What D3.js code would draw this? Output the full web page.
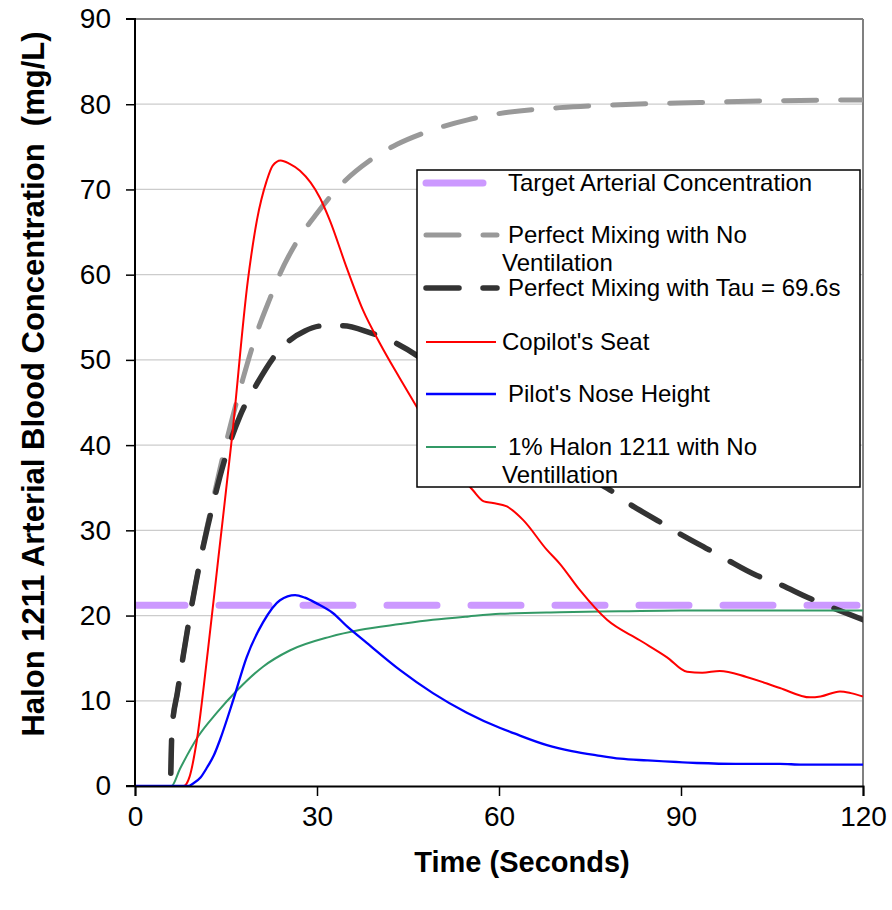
<!DOCTYPE html>
<html lang="en">
<head>
    <meta charset="UTF-8">
    <title>Halon 1211 Arterial Blood Concentration</title>
    <script src="https://cdnjs.cloudflare.com/ajax/libs/d3/7.8.5/d3.min.js"></script>
    <style>
        body { margin: 0; background: #fff; }
        text { font-family: "Liberation Sans", Arial, sans-serif; fill: #000; }
        .grid line { stroke: #cccccc; stroke-width: 1.3; }
    </style>
</head>
<body>
    <div id="chart"></div>

    <script>
        // Axis ticks
        const xTicks = [0, 30, 60, 90, 120];
        const yTicks = [0, 10, 20, 30, 40, 50, 60, 70, 80, 90];

        // Series values, [time (s), concentration (mg/L)]
        const target = [[0, 21.2], [120, 21.2]];

        const mixingNoVent = [
            [5.9, 1.5], [6.1, 6.6], [7, 11], [8, 15.5], [9, 19.8], [10, 23.7], [11, 27.4],
            [12, 30.8], [13, 34], [14, 37.2], [15.2, 40.8], [16.8, 45.2], [17.8, 47.8],
            [20.1, 53.2], [22.3, 57.3], [23.9, 60.1], [26.7, 63.9], [30, 67.2], [34.3, 70.8],
            [38.7, 73.4], [43.2, 75.3], [47.5, 76.6], [55, 78.2], [60, 78.9], [70, 79.6],
            [78.3, 79.9], [93.1, 80.2], [105, 80.4], [120, 80.5]
        ];

        const mixingTau = [
            [5.9, 1.5], [6.1, 6.6], [7, 11], [8, 15.5], [9, 19.8], [10, 23.7], [11, 27.3],
            [12, 30.5], [13, 33.5], [14, 36.3], [15.2, 39.3], [17.3, 43.4], [20.1, 47.2],
            [23.4, 50.8], [25.5, 52.3], [28, 53.4], [31, 54], [34.3, 54], [38.7, 53.2],
            [43.2, 51.9], [46.5, 50.5], [50, 48.6], [55, 46.3], [60, 43.8], [65, 41.2],
            [70, 38.6], [75.5, 35.9], [78.8, 34.5], [81.1, 33.3], [86.5, 31.0], [89.3, 29.8],
            [94.4, 27.8], [97.2, 26.7], [102.5, 24.7], [105.5, 23.9], [111.3, 22],
            [114, 21.2], [120, 19.5]
        ];

        const copilot = [
            [0, 0], [8, 0], [9, 1.1], [10.2, 5.4], [12, 15.8], [13.7, 26.5], [16, 41],
            [18.6, 59.3], [20.1, 66.4], [21.7, 71], [22.7, 72.8], [24, 73.4], [25.5, 73],
            [27.2, 72.2], [30.5, 69], [32.1, 66.4], [34.9, 60.8], [37.6, 55.8], [40.4, 51.9],
            [43.6, 47.9], [46.5, 44.4], [50, 40.3], [53, 37], [55.7, 34.7], [57.5, 33.4],
            [59, 33.2], [61.3, 32.8], [64, 31.2], [67.9, 27.7], [70, 26.1], [73.3, 23],
            [77.8, 19.5], [83.2, 17.1], [87.7, 15.1], [91, 13.4], [93.5, 13.3], [96.4, 13.5],
            [100.8, 12.8], [106.3, 11.5], [111.3, 10.4], [113, 10.5], [116.2, 11.1],
            [118, 10.9], [120, 10.5]
        ];

        const pilotNose = [
            [0, 0], [8.8, 0], [9.6, 0.3], [10.8, 1], [11.9, 2.2], [13, 3.6], [14, 5.4],
            [16.2, 10.1], [18.4, 15.1], [21.1, 19.2], [23.9, 21.8], [26.4, 22.4], [28, 22.1],
            [30, 21.4], [32.6, 20.3], [35, 18.7], [38.2, 16.8], [43.7, 13.6], [49.1, 10.9],
            [54.7, 8.6], [60.2, 6.8], [62.4, 6.2], [67.9, 4.8], [72, 4.1], [76.1, 3.6],
            [80, 3.2], [84.4, 3.0], [92.6, 2.7], [99, 2.6], [106.3, 2.6], [110, 2.5], [120, 2.5]
        ];

        const halonNoVent = [
            [0, 0], [6, 0], [7.4, 2], [10.4, 5.8], [13.5, 8.6], [16.8, 11.2], [21.1, 14],
            [25.5, 15.9], [32.1, 17.5], [37, 18.3], [43.7, 19], [49.1, 19.5], [55, 19.9],
            [60.2, 20.2], [70, 20.4], [80, 20.5], [90, 20.6], [105, 20.6], [120, 20.6]
        ];

        const series = [
            { name: "Target Arterial Concentration", data: target, color: "#cc99ff", width: 7, dash: "50,34", cap: "round", curve: d3.curveLinear },
            { name: "Perfect Mixing with No|Ventilation", data: mixingNoVent, color: "#999999", width: 5, dash: "33,24", cap: "round", curve: d3.curveMonotoneX },
            { name: "Perfect Mixing with Tau = 69.6s", data: mixingTau, color: "#333333", width: 5.5, dash: "33,24", cap: "round", curve: d3.curveMonotoneX },
            { name: "1% Halon 1211 with No|Ventillation", data: halonNoVent, color: "#339966", width: 2, dash: null, cap: "butt", curve: d3.curveMonotoneX },
            { name: "Copilot's Seat", data: copilot, color: "#ff0000", width: 2, dash: null, cap: "butt", curve: d3.curveMonotoneX },
            { name: "Pilot's Nose Height", data: pilotNose, color: "#0000ff", width: 2.3, dash: null, cap: "butt", curve: d3.curveMonotoneX }
        ];

        const legendOrder = [0, 1, 2, 4, 5, 3];

        const width = 892, height = 910;
        const margin = { top: 19, right: 29, bottom: 124, left: 135 };
        const innerW = width - margin.left - margin.right;
        const innerH = height - margin.top - margin.bottom;

        const svg = d3.select("#chart").append("svg")
            .attr("width", width)
            .attr("height", height);

        const g = svg.append("g").attr("transform", `translate(${margin.left},${margin.top})`);

        const x = d3.scaleLinear().domain([0, 120]).range([0, innerW]);
        const y = d3.scaleLinear().domain([0, 90]).range([innerH, 0]);

        // gridlines
        g.append("g").attr("class", "grid")
            .selectAll("line")
            .data(yTicks.filter(v => v > 0 && v < 90))
            .enter().append("line")
            .attr("x1", 0).attr("x2", innerW)
            .attr("y1", d => y(d)).attr("y2", d => y(d));

        // top and right frame (gray)
        g.append("line").attr("x1", 0).attr("x2", innerW).attr("y1", 0).attr("y2", 0)
            .attr("stroke", "#808080").attr("stroke-width", 2);
        g.append("line").attr("x1", innerW).attr("x2", innerW).attr("y1", 0).attr("y2", innerH)
            .attr("stroke", "#808080").attr("stroke-width", 2);

        // lines
        g.append("clipPath").attr("id", "plot-clip")
            .append("rect").attr("x", 0).attr("y", -5).attr("width", innerW).attr("height", innerH + 5);

        const lineGen = d3.line().x(d => x(d[0])).y(d => y(d[1]));

        g.append("g").attr("clip-path", "url(#plot-clip)")
            .selectAll("path")
            .data(series)
            .enter().append("path")
            .attr("fill", "none")
            .attr("stroke", d => d.color)
            .attr("stroke-width", d => d.width)
            .attr("stroke-dasharray", d => d.dash)
            .attr("stroke-linecap", d => d.cap)
            .attr("d", d => lineGen.curve(d.curve)(d.data));

        // axes
        const xAxis = g.append("g")
            .attr("transform", `translate(0,${innerH})`)
            .call(d3.axisBottom(x).tickValues(xTicks).tickSize(10).tickPadding(10));
        const yAxis = g.append("g")
            .call(d3.axisLeft(y).tickValues(yTicks).tickSize(9).tickPadding(15));

        [xAxis, yAxis].forEach(ax => {
            ax.select(".domain").attr("stroke", "#000").attr("stroke-width", 2);
            ax.selectAll(".tick line").attr("stroke", "#000").attr("stroke-width", 1.5);
            ax.selectAll(".tick text")
                .style("font-family", "'Liberation Sans', Arial, sans-serif")
                .style("font-size", "28px")
                .attr("fill", "#000");
        });
        yAxis.select(".domain").attr("d", `M-9,${innerH}H0V0H-9`);
        yAxis.select(".tick:last-of-type line").remove();

        // axis titles
        svg.append("text")
            .attr("x", 522).attr("y", 872)
            .attr("text-anchor", "middle")
            .style("font-size", "29px").style("font-weight", "bold")
            .text("Time (Seconds)");

        svg.append("text")
            .attr("transform", "translate(44,384) rotate(-90)")
            .attr("text-anchor", "middle")
            .style("font-size", "31px").style("font-weight", "bold")
            .style("white-space", "pre")
            .text("Halon 1211 Arterial Blood Concentration  (mg/L)");

        // legend
        const legend = svg.append("g").attr("transform", "translate(417,170)");
        legend.append("rect")
            .attr("width", 443).attr("height", 317)
            .attr("fill", "#fff").attr("stroke", "#000").attr("stroke-width", 1.5);

        const rowY = [13, 65, 118, 172, 224, 277];
        legendOrder.forEach((si, i) => {
            const s = series[si];
            const row = legend.append("g").attr("transform", `translate(0,${rowY[i]})`);
            const x1 = s.dash ? (si === 0 ? 66 : 80) : 79;
            row.append("line")
                .attr("x1", 9).attr("x2", x1)
                .attr("stroke", s.color)
                .attr("stroke-width", s.width)
                .attr("stroke-linecap", s.cap)
                .attr("stroke-dasharray", si === 0 ? null : s.dash);
            s.name.split("|").forEach((p, j) => {
                row.append("text")
                    .attr("x", j === 0 && si !== 4 ? 91 : 85)
                    .attr("y", 8 + j * 28)
                    .style("font-size", "24px")
                    .text(p);
            });
        });
    </script>
</body>
</html>
